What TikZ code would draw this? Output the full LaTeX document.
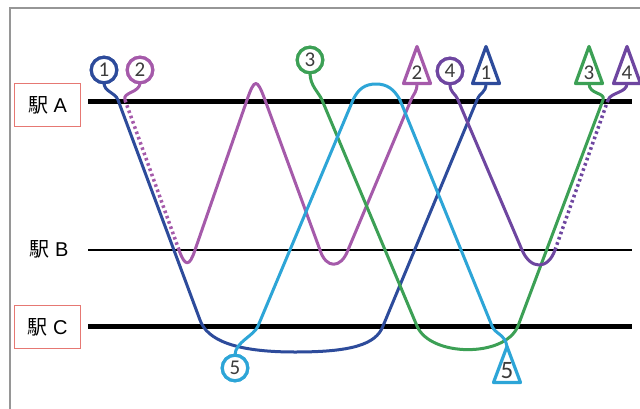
\documentclass[tikz,border=0pt]{standalone}
\usepackage{fontspec}
\setmainfont{Liberation Sans}
\newfontfamily\cjk{Noto Sans CJK JP}
\newfontfamily\numfont{Carlito}
\definecolor{cblue}{RGB}{45,75,155}
\definecolor{cmag}{RGB}{165,90,170}
\definecolor{ccyan}{RGB}{45,165,215}
\definecolor{cgreen}{RGB}{60,160,85}
\definecolor{cpurp}{RGB}{110,70,160}
\definecolor{boxred}{RGB}{230,120,115}
\definecolor{framegray}{RGB}{150,150,150}
\definecolor{digit}{RGB}{60,60,60}
\begin{document}
\begin{tikzpicture}[x=1pt,y=-1pt,
  train/.style={line width=3pt, line cap=round, line join=round},
  dots/.style={line width=3.5pt, line cap=butt, dash pattern=on 2.6pt off 3pt},
  circ/.style={circle, draw, line width=3.2pt, minimum size=25.5pt, inner sep=0pt, outer sep=0pt, fill=white, font=\numfont\fontsize{21}{21}\selectfont, text=digit},
  trimark/.style={line width=3.2pt, line join=round, fill=white},
  num/.style={inner sep=0pt, font=\numfont\fontsize{21}{21}\selectfont, text=digit},
  bignum/.style={inner sep=0pt, font=\numfont\fontsize{25}{25}\selectfont, text=digit},
  station/.style={line width=5pt},
  thinstation/.style={line width=2.6pt},
  lab/.style={font=\fontsize{20}{24}\selectfont, inner sep=0pt},
  labbox/.style={draw=boxred, line width=1.5pt, minimum width=66pt, minimum height=43pt}
]
\useasboundingbox (0,0) rectangle (640,408);
\fill[white] (0,0) rectangle (640,408);
\draw[framegray, line width=2pt] (10,420) -- (10,8) -- (650,8);

% station lines
\coordinate (a0) at (88,101); \coordinate (a1) at (632,101);
\coordinate (b0) at (88,250); \coordinate (b1) at (632,250);
\coordinate (s0) at (88,326); \coordinate (s1) at (632,326);
\draw[station] (a0) -- (a1);
\draw[thinstation] (b0) -- (b1);
\draw[station] (s0) -- (s1);

% labels
\node[labbox, lab] (labA) at (47.5,105) {{\cjk 駅} A};
\node[lab] (labB) at (49,249) {{\cjk 駅} B};
\node[labbox, lab] (labC) at (47.5,327) {{\cjk 駅} C};

% triangle anchors
\coordinate (t1b) at (486,83.5);
\coordinate (t2b) at (417,83.5);
\coordinate (t3b) at (589,83.5);
\coordinate (t4b) at (627,83.5);
\coordinate (t5a) at (507,346.5);

% circles (named first so paths can use anchors)
\node[circ, draw=cblue] (c1) at (104,70) {1};
\node[circ, draw=cmag] (c2) at (140,70) {2};
\node[circ, draw=cgreen] (c3) at (310,60) {3};
\node[circ, draw=cpurp] (c4) at (450,71) {4};
\node[circ, draw=ccyan] (c5) at (235,368) {5};

% train 1 (blue)
\draw[train, cblue] (c1.south) .. controls (104,92) and (115,92) .. (118,100) -- (200,320)
  .. controls (207,340) and (235,352) .. (295,352)
  .. controls (350,352) and (376,345) .. (383,326) -- (477,100)
  .. controls (480,92) and (486,93) .. (t1b);

% train 2 (magenta)
\draw[train, cmag] (c2.south) .. controls (140,93) and (122,92) .. (125,100);
\draw[dots, cmag] (125,100) -- (179,250);
\draw[train, cmag] (179,250) .. controls (185,267) and (189.5,267) .. (195,250) -- (247,100)
  .. controls (254.6,78) and (257,78) .. (265,100) -- (320,250)
  .. controls (326,269) and (341,269) .. (348,250) -- (411,100)
  .. controls (414,93) and (417,92) .. (t2b);

% train 3 (green)
\draw[train, cgreen] (c3.south) .. controls (310,86) and (318.6,92) .. (322,100) -- (417,326)
  .. controls (430,357) and (505,358) .. (518,326) -- (603,100)
  .. controls (606,92) and (589,95) .. (t3b);

% train 5 (cyan)
\draw[train, ccyan] (c5.north) .. controls (235,342) and (254,336) .. (258,326) -- (353,100)
  .. controls (358,89) and (365,84) .. (376,84)
  .. controls (387,84) and (394,89) .. (400,100) -- (492,326)
  .. controls (495,334) and (505,334) .. (t5a);

% train 4 (purple)
\draw[train, cpurp] (c4.south) .. controls (450,93) and (454.6,92) .. (458,100) -- (522,250)
  .. controls (530.6,270) and (548,270) .. (555,250);
\draw[dots, cpurp] (555,250) -- (608,100);
\draw[train, cpurp] (608,100) .. controls (611,92) and (627,93) .. (t4b);

% redraw circles on top
\node[circ, draw=cblue] at (c1) {1};
\node[circ, draw=cmag] at (c2) {2};
\node[circ, draw=cgreen] at (c3) {3};
\node[circ, draw=cpurp] at (c4) {4};
\node[circ, draw=ccyan] at (c5) {5};

% triangles
\draw[trimark, draw=cmag] (417,46.5) -- (430.5,83.5) -- (403.5,83.5) -- cycle;
\node[num] (t2) at (417,73) {2};
\draw[trimark, draw=cblue] (486,46.5) -- (499.5,83.5) -- (472.5,83.5) -- cycle;
\node[num] (t1) at (486,73) {1};
\draw[trimark, draw=cgreen] (589,46.5) -- (602.5,83.5) -- (575.5,83.5) -- cycle;
\node[num] (t3) at (589,73) {3};
\draw[trimark, draw=cpurp] (627,46.5) -- (640.5,83.5) -- (613.5,83.5) -- cycle;
\node[num] (t4) at (627,73) {4};
\draw[trimark, draw=ccyan] (t5a) -- (520.5,382.5) -- (493.5,382.5) -- cycle;
\node[bignum] (t5) at (507,371) {5};
\end{tikzpicture}
\end{document}
